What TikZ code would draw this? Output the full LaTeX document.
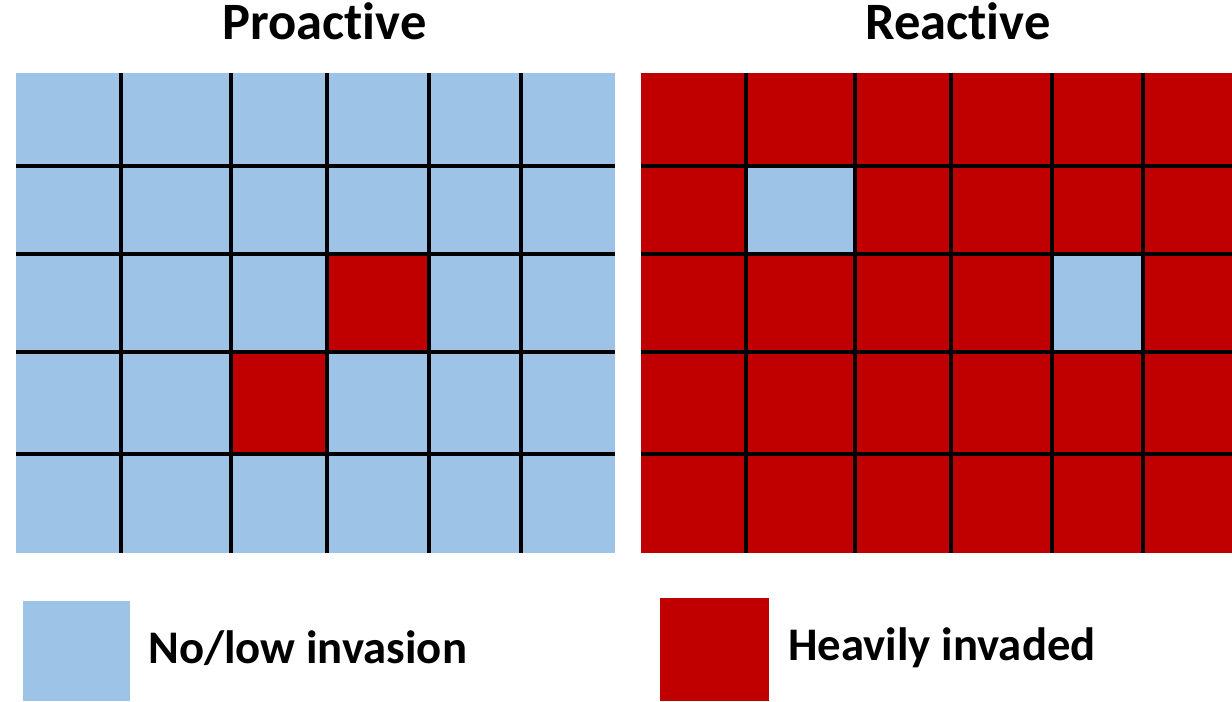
\documentclass[tikz,border=0pt]{standalone}
\usepackage{fontspec}
\setmainfont{Carlito}[Ligatures=NoCommon]
\usepackage{xcolor}
\definecolor{InvLow}{HTML}{9DC3E6}
\definecolor{InvHigh}{HTML}{C00000}
\begin{document}
\begin{tikzpicture}[x=0.02cm,y=-0.02cm,
    panelTitle/.style={font=\fontsize{29.9pt}{34pt}\selectfont\bfseries,inner sep=0pt,anchor=base},
    keyText/.style={font=\fontsize{26.6pt}{30pt}\selectfont\bfseries,inner sep=0pt,anchor=base west},
    gridLine/.style={black,line width=2.1pt}]
  \path[use as bounding box] (0,0) rectangle (1232,701);

  % Panel titles
  \node[panelTitle] (proTitle) at (324.5,39) {Proactive};
  \node[panelTitle] (reTitle) at (958,39) {Reactive};

  % Grid positions in image pixels (y grows downwards)
  \def\ProCols{121,231,327,429,521}
  \def\ReCols{746,855,951,1052,1143}
  \def\GridRows{166,254,352,454}

  % Proactive field: mostly low, two invaded cells
  \fill[InvLow] (16,73) rectangle (615,553);
  \fill[InvHigh] (327,254) rectangle (429,352);
  \fill[InvHigh] (231,352) rectangle (327,454);
  \foreach \gx in \ProCols {
    \draw[gridLine] (\gx,73) -- (\gx,553);
  }
  \foreach \gy in \GridRows {
    \draw[gridLine] (16,\gy) -- (615,\gy);
  }

  % Reactive field: mostly invaded, two low cells
  \fill[InvHigh] (641,73) rectangle (1232,553);
  \fill[InvLow] (746,166) rectangle (855,254);
  \fill[InvLow] (1052,254) rectangle (1143,352);
  \foreach \gx in \ReCols {
    \draw[gridLine] (\gx,73) -- (\gx,553);
  }
  \foreach \gy in \GridRows {
    \draw[gridLine] (641,\gy) -- (1232,\gy);
  }

  % Legend
  \fill[InvLow] (23,601) rectangle (130,701);
  \node[keyText] (lowText) at (148,663) {No/low invasion};
  \fill[InvHigh] (660,598) rectangle (769,701);
  \node[keyText] (highText) at (788,660) {Heavily invaded};
\end{tikzpicture}
\end{document}
